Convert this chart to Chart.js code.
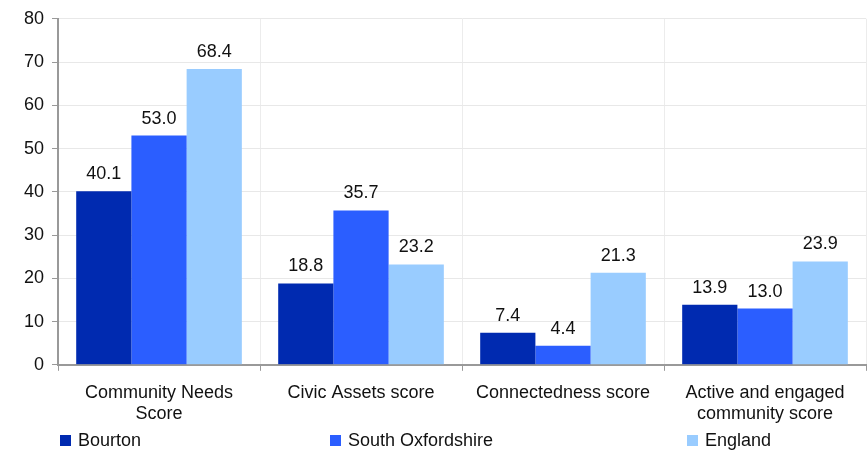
<!DOCTYPE html>
<html>
<head>
<meta charset="utf-8">
<script src="https://cdn.jsdelivr.net/npm/chart.js@4"></script>
<style>
  body { margin: 0; background: #fff; font-family: "Liberation Sans", Arial, sans-serif; }
  #wrap { position: relative; width: 867px; height: 451px; }
  #chart { position: absolute; left: 0; top: 0; }
  #legend { position: absolute; left: 0; top: 429px; width: 867px; height: 22px; }
  .item { position: absolute; top: 0; font-size: 18px; color: #111; line-height: 22px; }
  .item span { display: inline-block; width: 11px; height: 11px; margin-right: 7px; vertical-align: 0px; }
</style>
</head>
<body>
<div id="wrap">
  <canvas id="chart" width="867" height="436"></canvas>
  <div id="legend"></div>
</div>
<script>
// Data
const categories = [['Community Needs', 'Score'], 'Civic Assets score', 'Connectedness score', ['Active and engaged', 'community score']];
const seriesNames = ['Bourton', 'South Oxfordshire', 'England'];
const bourton = [40.1, 18.8, 7.4, 13.9];
const southOxon = [53.0, 35.7, 4.4, 13.0];
const england = [68.4, 23.2, 21.3, 23.9];
const colors = ['#002AB0', '#2B5EFF', '#99CCFF'];
const legendLeft = [60, 330, 687];

const fontFamily = '"Liberation Sans", Arial, sans-serif';

// value labels above bars
const valueLabels = {
    id: 'valueLabels',
    afterDatasetsDraw(chart) {
        const ctx = chart.ctx;
        ctx.save();
        ctx.font = '18px ' + fontFamily;
        ctx.fillStyle = '#111';
        ctx.textAlign = 'center';
        ctx.textBaseline = 'bottom';
        chart.data.datasets.forEach((ds, i) => {
            chart.getDatasetMeta(i).data.forEach((bar, j) => {
                ctx.fillText(ds.data[j].toFixed(1), bar.x, bar.y - 8);
            });
        });
        ctx.restore();
    }
};

new Chart(document.getElementById('chart'), {
    type: 'bar',
    data: {
        labels: categories,
        datasets: [
            { label: seriesNames[0], data: bourton, backgroundColor: colors[0] },
            { label: seriesNames[1], data: southOxon, backgroundColor: colors[1] },
            { label: seriesNames[2], data: england, backgroundColor: colors[2] }
        ]
    },
    options: {
        responsive: false,
        animation: false,
        layout: { padding: { top: 8, right: 1, left: 16 } },
        datasets: { bar: { categoryPercentage: 0.82, barPercentage: 1.0 } },
        scales: {
            x: {
                grid: { color: '#ececec', offset: true, tickColor: '#999', tickLength: 6 },
                border: { color: '#999', width: 2 },
                ticks: { color: '#111', font: { size: 18, family: fontFamily, lineHeight: 1.2 }, padding: 11, maxRotation: 0 }
            },
            y: {
                min: 0, max: 80,
                grid: { color: '#e8e8e8', tickColor: '#999', tickLength: 6 },
                border: { color: '#999', width: 2 },
                ticks: { stepSize: 10, color: '#111', font: { size: 18, family: fontFamily }, padding: 8 }
            }
        },
        plugins: {
            legend: { display: false },
            tooltip: { enabled: false }
        }
    },
    plugins: [valueLabels]
});

// legend
const legend = document.getElementById('legend');
seriesNames.forEach((name, i) => {
    const d = document.createElement('div');
    d.className = 'item';
    d.style.left = legendLeft[i] + 'px';
    d.innerHTML = '<span style="background:' + colors[i] + '"></span>' + name;
    legend.appendChild(d);
});
</script>
</body>
</html>
